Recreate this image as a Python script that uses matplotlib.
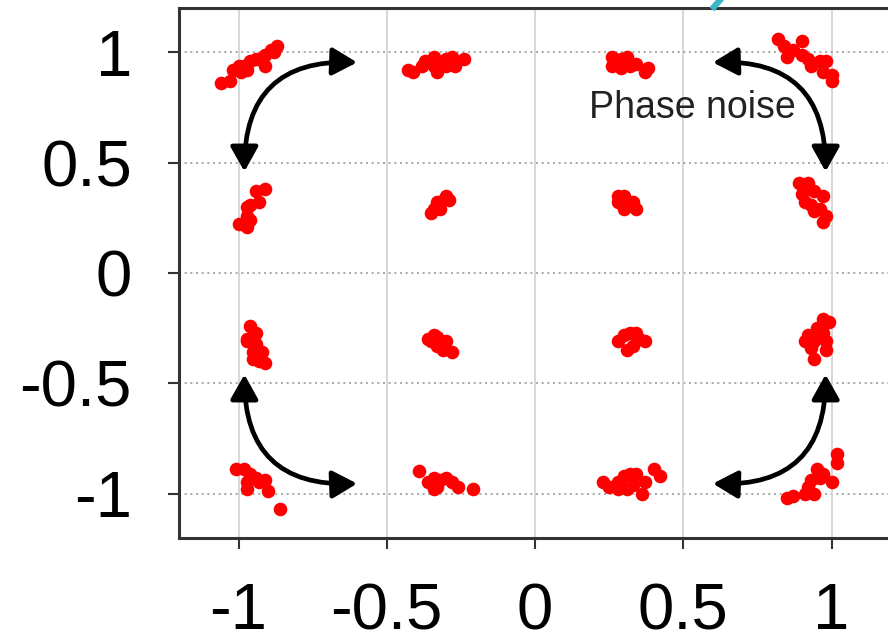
import matplotlib
matplotlib.use('Agg')
import matplotlib.pyplot as plt
from matplotlib.lines import Line2D

plt.rcParams['font.family'] = ['Liberation Sans', 'DejaVu Sans']

# received 16-QAM symbols with phase noise (I, Q)
i_top = [-1.06, -1.03, -1.02, -1.0, -0.99, -0.97, -0.96, -0.94, -0.93, -0.91, -0.91, -0.89, -0.88, -0.87, -0.98,
         -0.43, -0.41, -0.38, -0.37, -0.34, -0.33, -0.32, -0.30, -0.28, -0.27, -0.24, -0.34, -0.30,
         0.26, 0.26, 0.29, 0.31, 0.32, 0.34, 0.37, 0.38, 0.29,
         0.82, 0.84, 0.85, 0.87, 0.90, 0.90, 0.93, 0.96, 0.98, 0.97, 1.0, 1.0, 0.92]
q_top = [0.86, 0.87, 0.92, 0.94, 0.91, 0.92, 0.96, 0.97, 0.97, 0.94, 0.99, 1.01, 1.0, 1.03, 0.94,
         0.92, 0.91, 0.94, 0.96, 0.98, 0.91, 0.94, 0.94, 0.98, 0.94, 0.97, 0.94, 0.97,
         0.98, 0.94, 0.97, 0.98, 0.94, 0.95, 0.91, 0.93, 0.93,
         1.06, 1.03, 0.98, 1.01, 1.05, 0.99, 0.94, 0.96, 0.96, 0.91, 0.90, 0.87, 0.97]

i_mid_hi = [-1.0, -0.97, -0.97, -0.97, -0.96, -0.93, -0.94, -0.91, -0.96,
            -0.35, -0.34, -0.33, -0.32, -0.30, -0.29, -0.32,
            0.28, 0.28, 0.30, 0.32, 0.33, 0.34, 0.30,
            0.89, 0.92, 0.90, 0.94, 0.97, 0.91, 0.93, 0.96, 0.98, 0.97, 0.94]
q_mid_hi = [0.22, 0.21, 0.26, 0.30, 0.31, 0.32, 0.37, 0.38, 0.24,
            0.27, 0.29, 0.32, 0.32, 0.35, 0.33, 0.29,
            0.35, 0.32, 0.35, 0.31, 0.32, 0.29, 0.29,
            0.41, 0.41, 0.36, 0.37, 0.35, 0.32, 0.31, 0.29, 0.26, 0.23, 0.28]

i_mid_lo = [-0.96, -0.94, -0.97, -0.97, -0.94, -0.95, -0.92, -0.95, -0.91, -0.93,
            -0.36, -0.34, -0.33, -0.33, -0.30, -0.31, -0.28, -0.35,
            0.28, 0.30, 0.32, 0.34, 0.37, 0.31, 0.33, 0.35,
            0.97, 0.99, 0.95, 0.97, 0.92, 0.91, 0.94, 0.98, 0.93, 0.98, 0.94, 0.95]
q_mid_lo = [-0.24, -0.27, -0.30, -0.31, -0.32, -0.36, -0.36, -0.39, -0.41, -0.40,
            -0.30, -0.28, -0.29, -0.33, -0.31, -0.35, -0.36, -0.31,
            -0.31, -0.28, -0.27, -0.27, -0.31, -0.35, -0.33, -0.30,
            -0.21, -0.22, -0.25, -0.27, -0.28, -0.31, -0.31, -0.31, -0.34, -0.35, -0.39, -0.29]

i_bot = [-1.01, -0.98, -0.96, -0.97, -0.94, -0.91, -0.90, -0.97, -0.86, -0.93,
         -0.39, -0.36, -0.34, -0.33, -0.32, -0.30, -0.28, -0.26, -0.21, -0.34,
         0.23, 0.25, 0.28, 0.30, 0.32, 0.34, 0.36, 0.31, 0.33, 0.37, 0.40, 0.42, 0.28,
         1.02, 1.02, 0.95, 0.96, 0.93, 1.0, 0.92, 0.91, 0.94, 0.87, 0.85, 0.97]
q_bot = [-0.89, -0.89, -0.91, -0.95, -0.93, -0.94, -0.99, -0.98, -1.07, -0.95,
         -0.90, -0.95, -0.93, -0.97, -0.94, -0.93, -0.95, -0.97, -0.98, -0.98,
         -0.95, -0.97, -0.95, -0.92, -0.91, -0.91, -1.0, -0.98, -0.96, -0.95, -0.89, -0.92, -0.98,
         -0.82, -0.86, -0.89, -0.93, -0.94, -0.95, -0.97, -1.0, -1.0, -1.01, -1.02, -0.91]

ticks = [-1, -0.5, 0, 0.5, 1]
tick_labels = ['-1', '-0.5', '0', '0.5', '1']

fig = plt.figure(figsize=(8.88, 6.38), dpi=100)
ax = fig.add_axes([179.2 / 888, 100.4 / 638, 711.6 / 888, 529.2 / 638])

# grid: solid light vertical lines, dotted horizontal lines
for t in ticks:
    ax.axvline(t, color='#d4d4d4', lw=1.3, zorder=0)
    ax.axhline(t, color='#9a9a9a', lw=1.2, ls=(0, (1.2, 2.2)), zorder=0)

for xs, ys in [(i_top, q_top), (i_mid_hi, q_mid_hi), (i_mid_lo, q_mid_lo), (i_bot, q_bot)]:
    ax.plot(xs, ys, 'o', color='#ff0000', markersize=9.8, markeredgewidth=0, zorder=3)

# phase noise arrows in the four corners
arrow_props = dict(arrowstyle='<|-|>,head_length=0.5,head_width=0.28', color='black', lw=3.4,
                   shrinkA=0, shrinkB=0, mutation_scale=30)
for sx in (-1, 1):
    for sy in (-1, 1):
        rad = -0.52 if sx * sy < 0 else 0.52
        ax.annotate('', xy=(sx * 0.60, sy * 0.955), xytext=(sx * 0.98, sy * 0.46),
                    arrowprops=dict(arrow_props, connectionstyle='arc3,rad=%.2f' % rad), zorder=4)

ax.text(0.53, 0.75, 'Phase noise', fontsize=27, color='#222222', ha='center', va='center', zorder=5)

ax.set_xlim(-1.2, 1.2)
ax.set_ylim(-1.2, 1.2)
ax.set_xticks(ticks)
ax.set_xticklabels(tick_labels)
ax.set_yticks(ticks)
ax.set_yticklabels(tick_labels)
ax.tick_params(axis='both', direction='out', length=8, width=1.5, color='#333333', labelsize=47)
ax.tick_params(axis='x', pad=24)
ax.tick_params(axis='y', pad=26)
for s in ax.spines.values():
    s.set_linewidth(2.2)
    s.set_color('#333333')
ax.spines['right'].set_visible(False)

# bit of cyan from a neighbouring figure at the top edge
fig.add_artist(Line2D([720 / 888, 714 / 888], [1.0, 631 / 638], color='#3db4c8', lw=4.5))

plt.savefig('out.png', dpi=100)
